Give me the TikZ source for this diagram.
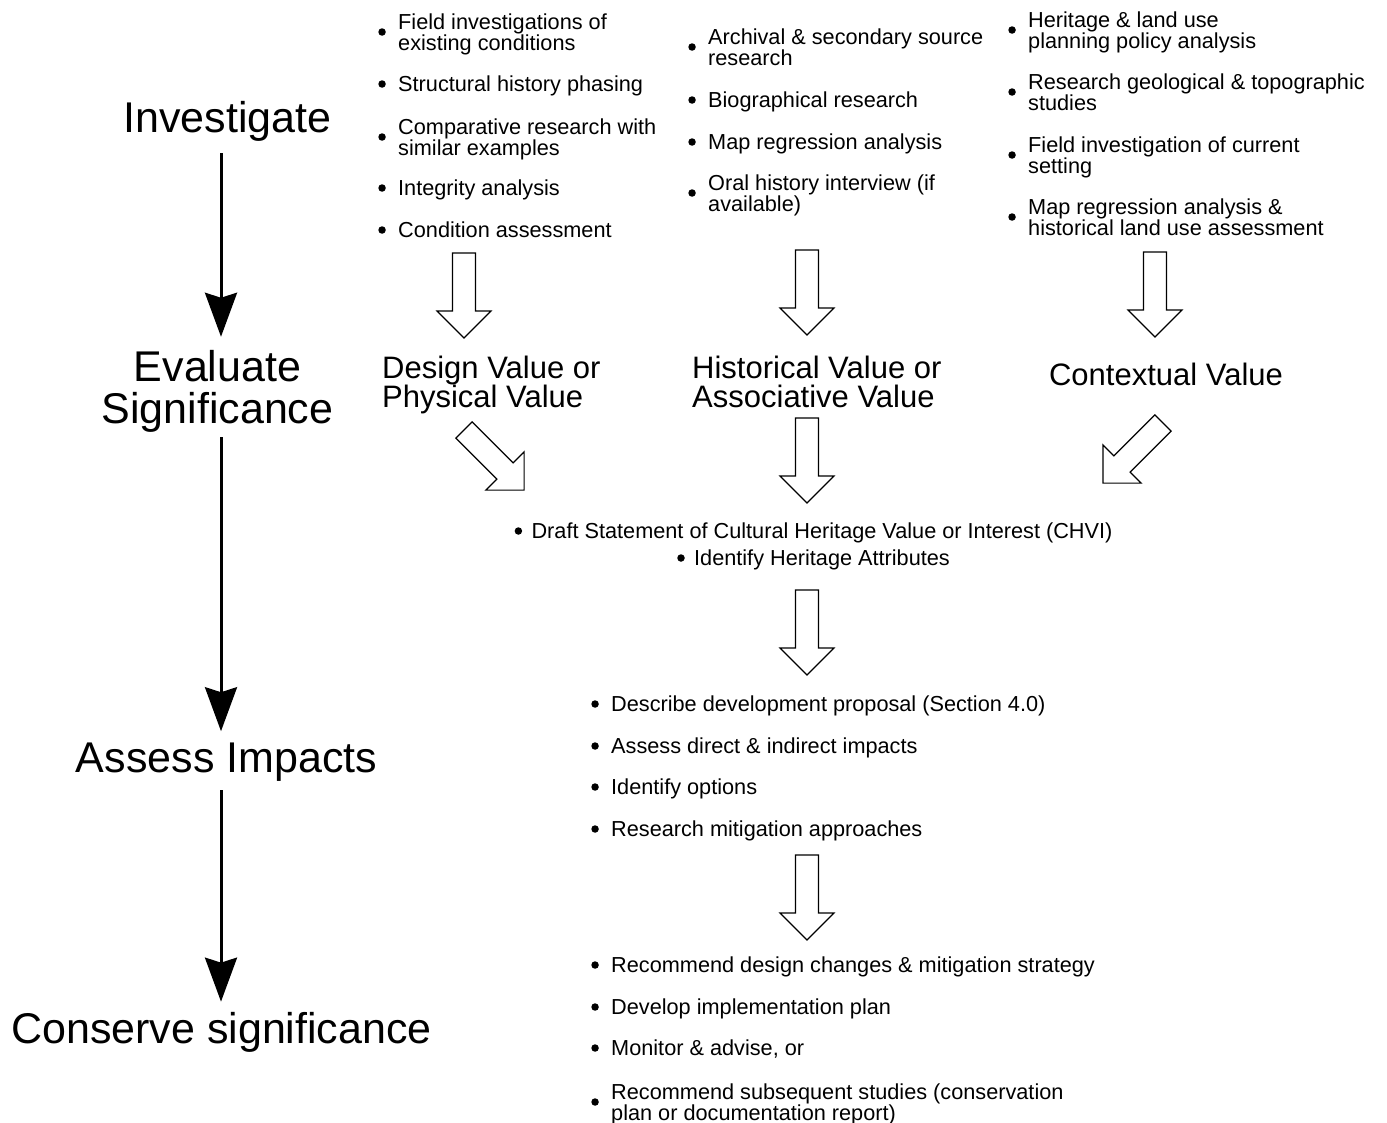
\documentclass[tikz,border=0pt]{standalone}
\usepackage{fontspec}
\setmainfont{Liberation Sans}
\usetikzlibrary{arrows.meta}

\newcommand{\stagefont}{\fontsize{43}{42}\selectfont}
\newcommand{\valfont}{\fontsize{31}{29.5}\selectfont}
\newcommand{\itemfont}{\fontsize{21.7}{20.5}\selectfont}

\tikzset{
  stage/.style={font=\stagefont, inner sep=0pt, align=center},
  valtext/.style={font=\valfont, inner sep=0pt, align=left,
    execute at begin node=\vphantom{Ag}, execute at end node=\vphantom{Ag}},
  bdot/.style={circle, fill, inner sep=0pt, minimum size=7.5pt, yshift=3pt},
  bitem/.style={font=\itemfont, inner sep=0pt, align=left, anchor=west,
    execute at begin node=\strut, execute at end node=\strut,
    label={[bdot, label distance=12pt]left:{}}},
  citem/.style={font=\itemfont, inner sep=0pt,
    execute at begin node=\strut, execute at end node=\strut,
    label={[bdot, label distance=9pt]left:{}}},
  flow/.style={line width=3pt, -{Stealth[length=44pt, width=32pt, inset=5pt]}},
  hollow/.pic={\draw[line width=1.2pt] (-11.5,0) -- (-11.5,58) -- (-27,58) -- (0,85)
    -- (27,58) -- (11.5,58) -- (11.5,0) -- cycle;}
}

\begin{document}
\begin{tikzpicture}[x=1pt, y=-1pt]
  \useasboundingbox (0,0) rectangle (1387,1122);

  % stages
  \node[stage, anchor=base] (inv) at (227.5,132) {Investigate};
  \node[stage] (eval) at (217.5,391) {Evaluate\\Significance};
  \node[stage, anchor=base] (assess) at (226.5,772) {Assess Impacts};
  \node[stage, anchor=base] (cons) at (221.5,1043) {Conserve significance};

  \coordinate (ax) at (221,0);
  \draw[flow, shorten <=12pt, shorten >=13pt] (inv.south -| ax) -- (eval.north -| ax);
  \draw[flow, shorten <=5pt, shorten >=11pt] (eval.south -| ax) -- (assess.north -| ax);
  \draw[flow, shorten <=9pt, shorten >=10pt] (assess.south -| ax) -- (cons.north -| ax);

  % investigate: physical
  \node[bitem] (c1a) at (398,35) {Field investigations of\\existing conditions};
  \node[bitem] (c1b) at (398,87) {Structural history phasing};
  \node[bitem] (c1c) at (398,140) {Comparative research with\\similar examples};
  \node[bitem] (c1d) at (398,191) {Integrity analysis};
  \node[bitem] (c1e) at (398,233) {Condition assessment};

  % investigate: historical
  \node[bitem] (c2a) at (708,50) {Archival \& secondary source\\research};
  \node[bitem] (c2b) at (708,103) {Biographical research};
  \node[bitem] (c2c) at (708,145) {Map regression analysis};
  \node[bitem] (c2d) at (708,196) {Oral history interview (if\\available)};

  % investigate: context
  \node[bitem] (c3a) at (1028,33) {Heritage \& land use\\planning policy analysis};
  \node[bitem] (c3b) at (1028,95) {Research geological \& topographic\\studies};
  \node[bitem] (c3c) at (1028,158) {Field investigation of current\\setting};
  \node[bitem] (c3d) at (1028,220) {Map regression analysis \&\\historical land use assessment};

  \pic at (464,253) {hollow};
  \pic at (807,250) {hollow};
  \pic at (1155,252) {hollow};

  % values
  \node[valtext, anchor=west] (dv) at (382,385) {Design Value or\\Physical Value};
  \node[valtext, anchor=west] (hv) at (692,385) {Historical Value or\\Associative Value};
  \node[valtext, anchor=base] (cv) at (1166,385) {Contextual Value};

  \pic[rotate=45] at (464,430) {hollow};
  \pic at (807,418) {hollow};
  \pic[rotate=-45] at (1163,423) {hollow};

  % statement
  \node[citem] (chvi) at (822,534) {Draft Statement of Cultural Heritage Value or Interest (CHVI)};
  \node[citem] (attr) at (822,561) {Identify Heritage Attributes};

  \pic at (807,590) {hollow};

  % impacts
  \node[bitem] (d1) at (611,707) {Describe development proposal (Section 4.0)};
  \node[bitem] (d2) at (611,749) {Assess direct \& indirect impacts};
  \node[bitem] (d3) at (611,790) {Identify options};
  \node[bitem] (d4) at (611,832) {Research mitigation approaches};

  \pic at (807,855) {hollow};

  % conserve
  \node[bitem] (e1) at (611,968) {Recommend design changes \& mitigation strategy};
  \node[bitem] (e2) at (611,1010) {Develop implementation plan};
  \node[bitem] (e3) at (611,1051) {Monitor \& advise, or};
  \node[bitem] (e4) at (611,1105) {Recommend subsequent studies (conservation\\plan or documentation report)};
\end{tikzpicture}
\end{document}
